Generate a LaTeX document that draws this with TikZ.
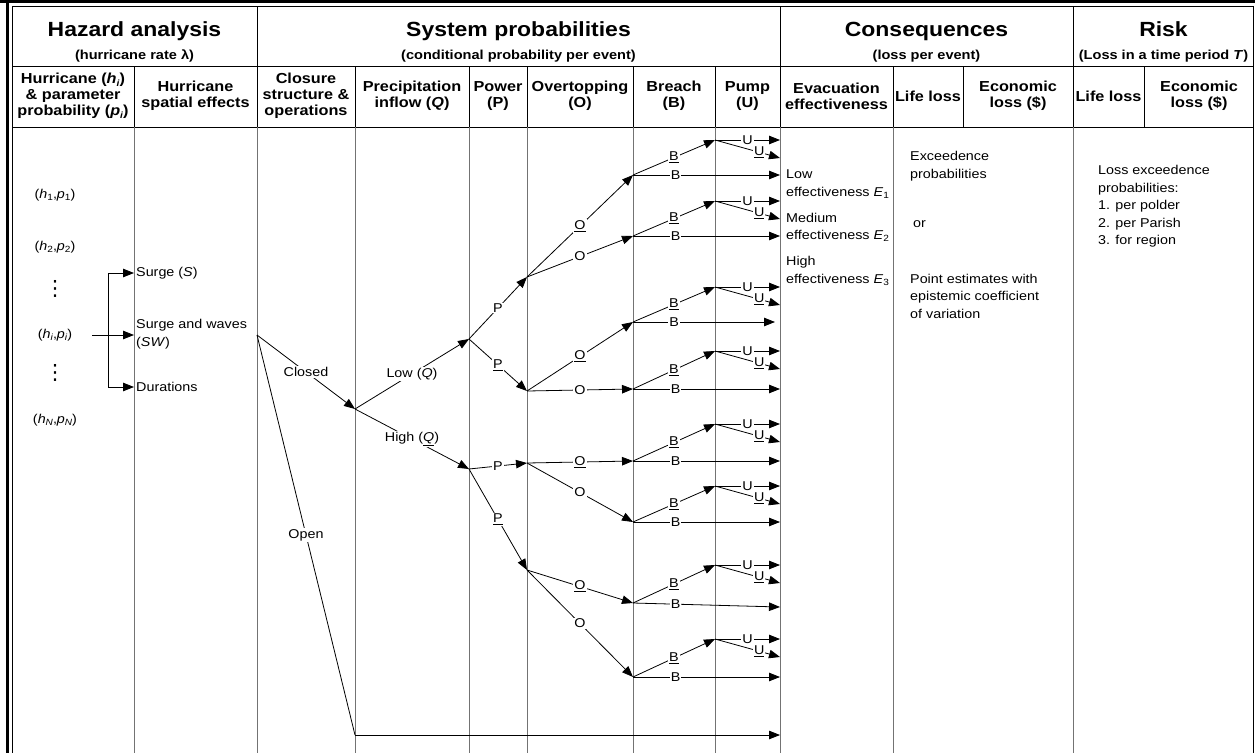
\documentclass[tikz,border=0pt]{standalone}
\usepackage{fontspec}
\setmainfont{Liberation Sans}[FakeStretch=1.12]
\newfontfamily\dejavu{DejaVu Sans}
\usetikzlibrary{arrows.meta}
\newcommand{\bodyf}{\fontsize{12.8}{17.5}\selectfont}
\newcommand{\titlef}{\fontsize{20.5}{24}\selectfont\bfseries}
\newcommand{\subtf}{\fontsize{13}{16}\selectfont\bfseries}
\newcommand{\headf}{\fontsize{14.5}{16}\selectfont\bfseries}
\newcommand{\sbs}[1]{\raisebox{-0.3ex}{\fontsize{9}{9}\selectfont #1}}
\newcommand{\vdts}{{\dejavu\fontsize{21}{21}\selectfont ⋮}}
\tikzset{
  edge/.style={draw, line width=0.8pt, -{Triangle[length=11pt,width=8.5pt]}},
  plain/.style={draw, line width=0.8pt},
  lab/.style={fill=white, inner sep=1pt, font=\bodyf},
  txt/.style={inner sep=0pt, font=\bodyf, align=left, anchor=west},
  ctxt/.style={inner sep=0pt, font=\bodyf},
  hdr/.style={inner sep=0pt, font=\headf, align=center},
  ttl/.style={inner sep=0pt, font=\titlef, anchor=base},
  subt/.style={inner sep=0pt, font=\subtf, anchor=base},
  gridl/.style={line width=0.9pt, black!55},
  hline/.style={line width=0.9pt, black},
}
\begin{document}
\begin{tikzpicture}[x=1pt,y=-1pt]
\useasboundingbox (0,0) rectangle (1255,753);
% frame
\draw[line width=3pt] (0,1.5) -- (1255,1.5);
\draw[line width=3pt] (7.5,0) -- (7.5,753);
\draw[hline] (12,6) -- (1254,6);
\draw[hline] (12,6) -- (12,753);
\draw[hline] (1253.5,6) -- (1253.5,753);
% header lines
\draw[hline] (12,66) -- (1254,66);
\draw[hline] (12,127) -- (1254,127);
\foreach \x in {257,780,1073} \draw[hline] (\x,6) -- (\x,127);
\foreach \x in {134,355,469,527,633,715,893,963,1144} \draw[hline] (\x,66) -- (\x,127);
% body column lines
\foreach \x in {134,257,355,469,527,633,715,780,893,1073} \draw[gridl] (\x,127) -- (\x,753);
% titles
\node[ttl] (tHaz) at (134.5,36) {Hazard analysis};
\node[subt] (sHaz) at (134.5,59) {(hurricane rate λ)};
\node[ttl] (tSys) at (518.5,36) {System probabilities};
\node[subt] (sSys) at (518.5,59) {(conditional probability per event)};
\node[ttl] (tCon) at (926.5,36) {Consequences};
\node[subt] (sCon) at (926.5,59) {(loss per event)};
\node[ttl] (tRisk) at (1163.5,36) {Risk};
\node[subt] (sRisk) at (1163.5,59) {(Loss in a time period \textit{T})};
% column headers
\node[hdr] (c1) at (73,96) {Hurricane (\textit{h}\sbs{\textit{i}})\\\& parameter\\probability (\textit{p}\sbs{\textit{i}})};
\node[hdr] (c2) at (195.5,96) {Hurricane\\spatial effects};
\node[hdr] (c3) at (306,96) {Closure\\structure \&\\operations};
\node[hdr] (c4) at (412,96) {Precipitation\\inflow (\textit{Q})};
\node[hdr] (c5) at (498,96) {Power\\(P)};
\node[hdr] (c6) at (580,96) {Overtopping\\(O)};
\node[hdr] (c7) at (674,96) {Breach\\(B)};
\node[hdr] (c8) at (747.5,96) {Pump\\(U)};
\node[hdr] (c9) at (836.5,96) {Evacuation\\effectiveness};
\node[hdr] (c10) at (928,96) {Life loss};
\node[hdr] (c11) at (1018,96) {Economic\\loss (\$)};
\node[hdr] (c12) at (1108.5,96) {Life loss};
\node[hdr] (c13) at (1199,96) {Economic\\loss (\$)};
% hurricanes
\node[ctxt] (h1) at (55,195) {(\textit{h}\sbs{1},\textit{p}\sbs{1})};
\node[ctxt] (h2) at (55,247) {(\textit{h}\sbs{2},\textit{p}\sbs{2})};
\node[ctxt] (vd1) at (55,289) {\vdts};
\node[ctxt] (hi) at (55,335) {(\textit{h}\sbs{\textit{i}},\textit{p}\sbs{\textit{i}})};
\node[ctxt] (vd2) at (55,373) {\vdts};
\node[ctxt] (hN) at (55,420) {(\textit{h}\sbs{\textit{N}},\textit{p}\sbs{\textit{N}})};
% spatial effects
\node[txt] (sS) at (136,273) {Surge (\textit{S})};
\node[txt] (sSW) at (136,334) {Surge and waves\\(\textit{SW})};
\node[txt] (sD) at (136,387) {Durations};
\coordinate (hiR) at (92,335);
\coordinate (br1) at (108,273);
\coordinate (br2) at (108,387);
\coordinate (aS) at (134,273);
\coordinate (aSW) at (134,335);
\coordinate (aD) at (134,387);
\draw[plain] (br1) -- (br2);
\draw[edge] (br1) -- (aS);
\draw[edge] (br2) -- (aD);
\draw[edge] (hiR) -- (aSW);
% tree nodes
\coordinate (SW) at (257,335);
\coordinate (Cl) at (355,409);
\coordinate (Op) at (355,735);
\coordinate (Oe) at (780,735);
\coordinate (QL) at (469,339);
\coordinate (QH) at (469,469);
\coordinate (P1) at (527,277);
\coordinate (P2) at (527,391);
\coordinate (P3) at (527,463);
\coordinate (P4) at (527,570);
\draw[edge] (SW) -- node[lab] (lCl) {Closed} (Cl);
\draw[plain] (SW) -- node[lab] (lOp) {Open} (Op);
\draw[edge] (Op) -- (Oe);
\draw[edge] (Cl) -- node[lab] (lLow) {Low (\textit{Q})} (QL);
\draw[edge] (Cl) -- node[lab] (lHigh) {High (\underline{\textit{Q}})} (QH);
\draw[edge] (QL) -- node[lab] (lP1) {P} (P1);
\draw[edge] (QL) -- node[lab] (lP2) {\underline{P}} (P2);
\draw[edge] (QH) -- node[lab] (lP3) {P} (P3);
\draw[edge] (QH) -- node[lab] (lP4) {\underline{P}} (P4);
% breach / pump groups
\foreach \k/\p/\yb/\yu/\xe/\ye in {1/P1/175/140/780/175, 2/P1/236/201/780/236, 3/P2/322/287/775/322, 4/P2/389/351/780/389, 5/P3/461/424/780/461, 6/P3/522/486/780/522, 7/P4/603/565/780/607, 8/P4/677/639/780/677}{
  \coordinate (B\k) at (633,\yb);
  \coordinate (U\k) at (715,\yu);
  \coordinate (Be\k) at (\xe,\ye);
  \coordinate (Ua\k) at (780,\yu);
  \coordinate (Ub\k) at (780,\yu+18);
  \draw[edge] (B\k) -- node[lab] {\underline{B}} (U\k);
  \draw[edge] (B\k) -- node[lab, pos=0.29] {B} (Be\k);
  \draw[edge] (U\k) -- node[lab] {U} (Ua\k);
  \draw[edge] (U\k) -- node[lab, pos=0.68] {\underline{U}} (Ub\k);
}
\draw[edge] (P1) -- node[lab] (lO1) {\underline{O}} (B1);
\draw[edge] (P1) -- node[lab] (lO2) {O} (B2);
\draw[edge] (P2) -- node[lab] (lO3) {\underline{O}} (B3);
\draw[edge] (P2) -- node[lab] (lO4) {O} (B4);
\draw[edge] (P3) -- node[lab] (lO5) {\underline{O}} (B5);
\draw[edge] (P3) -- node[lab] (lO6) {O} (B6);
\draw[edge] (P4) -- node[lab] (lO7) {\underline{O}} (B7);
\draw[edge] (P4) -- node[lab] (lO8) {O} (B8);
% consequences
\node[txt] (E1) at (786,184) {Low\\effectiveness \textit{E}\sbs{1}};
\node[txt] (E2) at (786,227.5) {Medium\\effectiveness \textit{E}\sbs{2}};
\node[txt] (E3) at (786,271) {High\\effectiveness \textit{E}\sbs{3}};
\node[txt] (ex) at (910,166) {Exceedence\\probabilities};
\node[txt] (or) at (913,224) {or};
\node[txt] (pe) at (910,296) {Point estimates with\\epistemic coefficient\\of variation};
\node[txt] (le) at (1098,206.5) {Loss exceedence\\probabilities:\\1. per polder\\2. per Parish\\3. for region};
\end{tikzpicture}
\end{document}
